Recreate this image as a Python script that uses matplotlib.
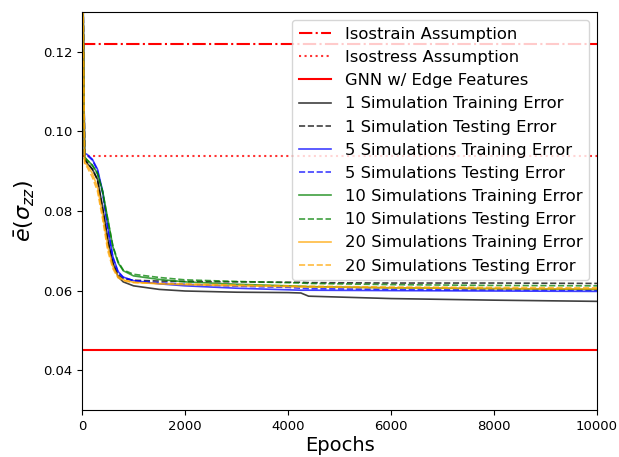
import matplotlib
matplotlib.use("Agg")
import matplotlib.pyplot as plt

epochs = [0, 50, 100, 200, 300, 400, 500, 600, 700, 800, 1000, 1500, 2000,
          3000, 4000, 4250, 4400, 6000, 8000, 10000]

isostrain = 0.1220
isostress = 0.0937
gnn_edge = 0.0452

train_1 = [0.16, 0.0930, 0.0920, 0.0905, 0.0880, 0.0810, 0.0730, 0.0670, 0.0635, 0.0622,
           0.0612, 0.0603, 0.0599, 0.0596, 0.0595, 0.0594, 0.0586, 0.0580, 0.0576, 0.0573]
test_1 = [0.16, 0.0932, 0.0922, 0.0905, 0.0878, 0.0805, 0.0725, 0.0668, 0.0640, 0.0630,
          0.0626, 0.0624, 0.0623, 0.0622, 0.0621, 0.0621, 0.0620, 0.0619, 0.0619, 0.0618]
train_5 = [0.16, 0.0945, 0.0942, 0.0930, 0.0905, 0.0850, 0.0760, 0.0685, 0.0648, 0.0634,
           0.0625, 0.0617, 0.0612, 0.0606, 0.0602, 0.0601, 0.0601, 0.0600, 0.0599, 0.0598]
test_5 = [0.16, 0.0943, 0.0940, 0.0928, 0.0902, 0.0845, 0.0755, 0.0682, 0.0646, 0.0633,
          0.0625, 0.0620, 0.0616, 0.0611, 0.0608, 0.0606, 0.0605, 0.0603, 0.0602, 0.0601]
train_10 = [0.16, 0.0935, 0.0928, 0.0915, 0.0895, 0.0850, 0.0780, 0.0710, 0.0670, 0.0650,
            0.0637, 0.0628, 0.0622, 0.0616, 0.0612, 0.0611, 0.0610, 0.0607, 0.0605, 0.0603]
test_10 = [0.16, 0.0935, 0.0928, 0.0915, 0.0893, 0.0848, 0.0778, 0.0712, 0.0673, 0.0652,
           0.0641, 0.0633, 0.0627, 0.0623, 0.0620, 0.0619, 0.0618, 0.0615, 0.0613, 0.0612]
train_20 = [0.16, 0.0922, 0.0915, 0.0895, 0.0860, 0.0790, 0.0710, 0.0660, 0.0635, 0.0627,
            0.0621, 0.0617, 0.0615, 0.0612, 0.0610, 0.0609, 0.0609, 0.0607, 0.0605, 0.0604]
test_20 = [0.16, 0.0918, 0.0910, 0.0885, 0.0850, 0.0780, 0.0700, 0.0655, 0.0632, 0.0625,
           0.0620, 0.0618, 0.0617, 0.0614, 0.0612, 0.0611, 0.0611, 0.0609, 0.0608, 0.0607]

fig = plt.figure(figsize=(6.19, 4.57), dpi=100)
ax = fig.add_axes([0.1325, 0.1028, 0.832, 0.871])

ax.axhline(isostrain, color='red', linestyle='-.', linewidth=1.5, label='Isostrain Assumption')
ax.axhline(isostress, color='red', linestyle=':', linewidth=1.5, alpha=0.8, label='Isostress Assumption')
ax.axhline(gnn_edge, color='red', linestyle='-', linewidth=1.5, label='GNN w/ Edge Features')

lw = 1.2
ax.plot(epochs, train_1, color='black', alpha=0.75, lw=lw, label='1 Simulation Training Error')
ax.plot(epochs, test_1, color='black', alpha=0.75, lw=lw, ls='--', label='1 Simulation Testing Error')
ax.plot(epochs, train_5, color='blue', alpha=0.75, lw=lw, label='5 Simulations Training Error')
ax.plot(epochs, test_5, color='blue', alpha=0.75, lw=lw, ls='--', label='5 Simulations Testing Error')
ax.plot(epochs, train_10, color='green', alpha=0.75, lw=lw, label='10 Simulations Training Error')
ax.plot(epochs, test_10, color='green', alpha=0.75, lw=lw, ls='--', label='10 Simulations Testing Error')
ax.plot(epochs, train_20, color='orange', alpha=0.75, lw=lw, label='20 Simulations Training Error')
ax.plot(epochs, test_20, color='orange', alpha=0.75, lw=lw, ls='--', label='20 Simulations Testing Error')

ax.set_xlim(0, 10000)
ax.set_ylim(0.03, 0.13)
ax.set_yticks([0.04, 0.06, 0.08, 0.10, 0.12])
ax.tick_params(labelsize=9.5)
ax.set_xlabel('Epochs', fontsize=14, labelpad=2)
ax.set_ylabel(r'$\bar{e}(\sigma_{zz})$', fontsize=16)
ax.legend(loc='upper right', fontsize=11.8, handlelength=2.0, labelspacing=0.5,
          borderaxespad=0.5)

fig.savefig('out.png', dpi=100)
